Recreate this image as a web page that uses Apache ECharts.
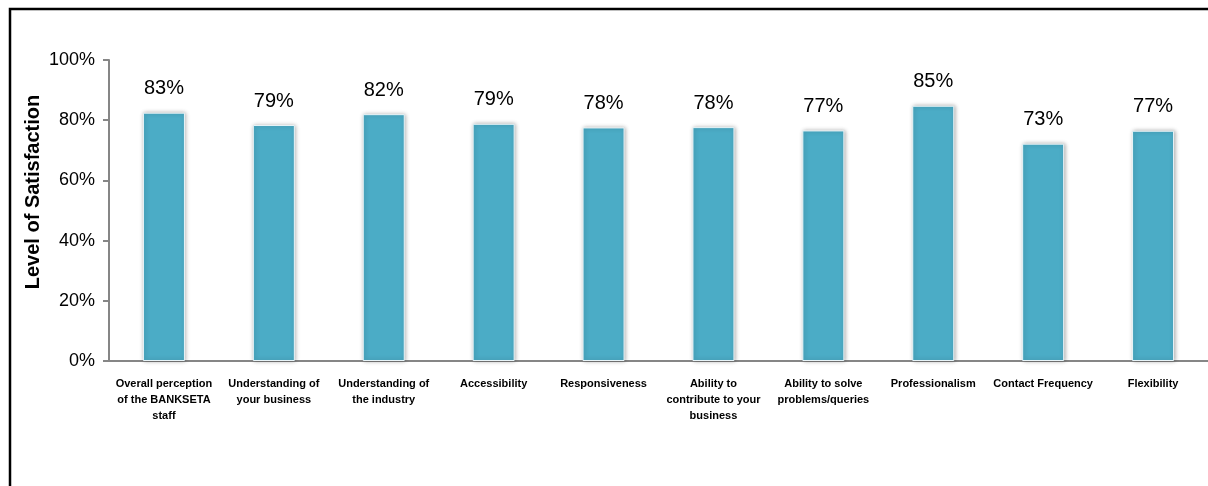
<!DOCTYPE html>
<html>
<head>
<meta charset="utf-8">
<script src="https://cdn.jsdelivr.net/npm/echarts@6/dist/echarts.min.js"></script>
<style>
html,body{margin:0;padding:0;background:#fff;}
#chart{width:1208px;height:486px;}
</style>
</head>
<body>
<div id="chart"></div>
<script>
const categories = [
  "Overall perception\nof the BANKSETA\nstaff",
  "Understanding of\nyour business",
  "Understanding of\nthe industry",
  "Accessibility",
  "Responsiveness",
  "Ability to\ncontribute to your\nbusiness",
  "Ability to solve\nproblems/queries",
  "Professionalism",
  "Contact Frequency",
  "Flexibility"
];
const values = [82.5, 78.4, 82.0, 78.8, 77.6, 77.7, 76.6, 84.8, 72.2, 76.5];
const valueLabels = ["83%", "79%", "82%", "79%", "78%", "78%", "77%", "85%", "73%", "77%"];
const yTicks = [0, 20, 40, 60, 80, 100];
const axisTitle = "Level of Satisfaction";

const chart = echarts.init(document.getElementById('chart'), null, {renderer: 'canvas'});
const font = '"Liberation Sans", Arial, sans-serif';
chart.setOption({
  animation: false,
  backgroundColor: '#fff',
  graphic: [{
    type: 'rect',
    shape: {x: 10, y: 9, width: 1400, height: 700},
    style: {fill: 'none', stroke: '#000', lineWidth: 2.5},
    silent: true
  }, {
    type: 'text',
    x: 33,
    y: 192,
    rotation: Math.PI / 2,
    silent: true,
    style: {
      text: axisTitle,
      fill: '#000',
      font: 'bold 20px ' + font,
      textAlign: 'center',
      textVerticalAlign: 'middle'
    }
  }],
  grid: {left: 109, right: 0, top: 60, bottom: 125, containLabel: false},
  xAxis: {
    type: 'category',
    data: categories,
    axisLine: {show: true, lineStyle: {color: '#868686', width: 2}},
    axisTick: {show: false},
    axisLabel: {
      interval: 0,
      margin: 15,
      color: '#000',
      fontFamily: font,
      fontWeight: 'bold',
      fontSize: 11,
      lineHeight: 16
    }
  },
  yAxis: {
    type: 'value',
    min: yTicks[0],
    max: yTicks[yTicks.length - 1],
    interval: yTicks[1] - yTicks[0],
    axisLine: {show: true, lineStyle: {color: '#868686', width: 2}},
    axisTick: {show: true, inside: false, length: 6, lineStyle: {color: '#868686', width: 2}},
    splitLine: {show: false},
    axisLabel: {
      margin: 14,
      color: '#000',
      fontFamily: font,
      fontSize: 18,
      formatter: v => v + '%'
    }
  },
  series: [{
    type: 'bar',
    data: values,
    barWidth: 42,
    itemStyle: {
      color: '#4BACC6',
      borderColor: '#E8F4F8',
      borderWidth: 1,
      shadowBlur: 4,
      shadowColor: 'rgba(0,0,0,0.3)',
      shadowOffsetX: 1,
      shadowOffsetY: 0
    },
    label: {
      show: true,
      position: 'top',
      distance: 14,
      color: '#000',
      fontFamily: font,
      fontSize: 20,
      formatter: p => valueLabels[p.dataIndex]
    }
  }]
});
</script>
</body>
</html>
